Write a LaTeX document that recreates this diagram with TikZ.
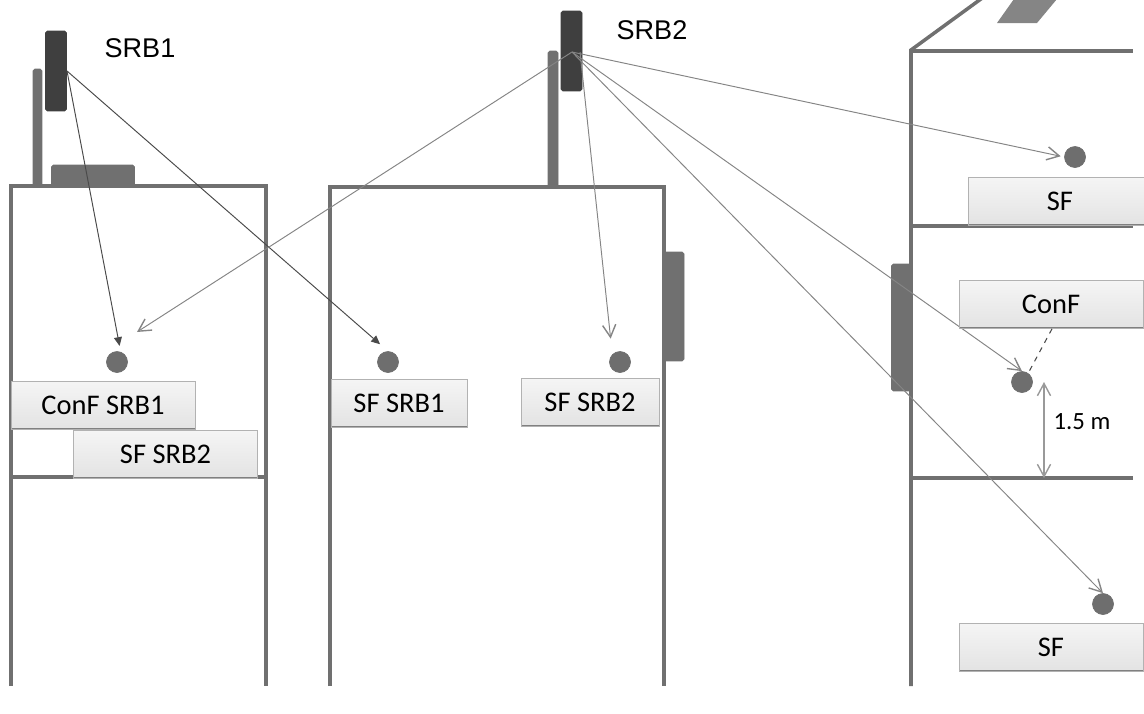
\documentclass[tikz,border=0pt]{standalone}
\usepackage{fontspec}
\setmainfont{Carlito}
\newfontfamily\arialfont{Liberation Sans}
\usepackage{tikz}
\usetikzlibrary{positioning,
                calc,
                arrows.meta}
\definecolor{wallgray}{HTML}{707070}
\definecolor{antennagray}{HTML}{3F3F3F}
\definecolor{raygray}{HTML}{858585}
\definecolor{raydark}{HTML}{4A4A4A}
\definecolor{dotgray}{HTML}{6E6E6E}

\begin{document}
\begin{tikzpicture}[x=0.02cm,y=-0.02cm]

%--------------------------------------------------
% STYLES
%--------------------------------------------------

\tikzset{
wall/.style={
draw=wallgray,
line width=2pt
},
antenna/.style={
draw=antennagray,
fill=antennagray,
rounded corners=1pt,
inner sep=0pt,
minimum width=0.42cm,
minimum height=1.6cm
},
panel/.style={
draw=wallgray,
fill=wallgray,
rounded corners=1pt,
inner sep=0pt
},
userdot/.style={
circle,
draw=dotgray,
fill=dotgray,
inner sep=0pt,
minimum size=0.42cm
},
tagbox/.style={
draw=gray!60,
top color=gray!8,
bottom color=gray!22,
inner sep=0pt,
minimum width=3.68cm,
minimum height=0.96cm,
font=\fontsize{16.2}{18}\selectfont,
path picture={
\draw[gray,line width=1.6pt]
(path picture bounding box.south west)--(path picture bounding box.south east);
}
},
rayopen/.style={
draw=raygray,
line width=0.55pt,
-{Straight Barb[length=7pt,width=7.5pt,line width=0.8pt]}
},
raysolid/.style={
draw=raydark,
line width=0.55pt,
-{Triangle[length=5pt,width=4.5pt]}
},
srblabel/.style={
font=\arialfont\fontsize{15.4}{18}\selectfont
}
}

\clip (0,0) rectangle (1144,714);

%--------------------------------------------------
% LEFT BUILDING
%--------------------------------------------------

\draw[wall] (11,686)--(11,186)--(266,186)--(266,686);
\draw[wall] (11,477)--(266,477);

\node[panel,minimum width=0.18cm,minimum height=2.34cm]
(poleone) at (37.5,127.5) {};

\node[panel,minimum width=1.66cm,minimum height=0.42cm]
(roofbox) at (93,175.5) {};

\node[antenna] (srbone) at (56,71) {};

\node[srblabel] (srbonelabel) at (140,48) {SRB1};

%--------------------------------------------------
% MIDDLE BUILDING
%--------------------------------------------------

\draw[wall] (330,686)--(330,187)--(664,187)--(664,686);

\node[panel,minimum width=0.2cm,minimum height=2.72cm]
(poletwo) at (553,119) {};

\node[panel,minimum width=0.4cm,minimum height=2.18cm]
(sidepanel) at (674,306.5) {};

\node[antenna] (srbtwo) at (571.5,51) {};

\node[srblabel] (srbtwolabel) at (652,30) {SRB2};

%--------------------------------------------------
% RIGHT BUILDING
%--------------------------------------------------

\draw[wall] (911,686)--(911,50)--(985,-4);
\draw[wall] (911,51)--(1133,51);
\draw[wall] (911,226)--(1133,226);
\draw[wall] (911,478)--(1133,478);

\fill[wallgray!85] (997,23)--(1037,23)--(1057,-1)--(1014,-1)--cycle;

\node[panel,minimum width=0.4cm,minimum height=2.54cm]
(frontpanel) at (901.5,327.5) {};

%--------------------------------------------------
% USERS
%--------------------------------------------------

\node[userdot] (confone) at (117,362) {};
\node[userdot] (sfone) at (388,362) {};
\node[userdot] (sftwo) at (620,362) {};
\node[userdot] (sftop) at (1075,157) {};
\node[userdot] (confright) at (1022,382) {};
\node[userdot] (sfbottom) at (1103,604) {};

%--------------------------------------------------
% RAYS
%--------------------------------------------------

\coordinate (srbonefoot) at (67,71);
\coordinate (srbtwofoot) at (572,52);
\coordinate (srbtwoside) at (580,52);
\coordinate (confonegap) at (137,332);
\coordinate (floortop) at (1044,382);
\coordinate (floorfoot) at (1044,478);

\draw[raysolid,shorten >=3.4pt] (srbonefoot)--(confone.70);
\draw[raysolid,shorten >=6pt] (srbonefoot)--(sfone.north);

\draw[rayopen] (srbtwofoot)--(confonegap);
\draw[rayopen,shorten >=9pt] (srbtwoside)--(sftwo.135);
\draw[rayopen,shorten >=2pt] (srbtwofoot)--(sftop.west);
\draw[rayopen] (srbtwofoot)--(confright.north);
\draw[rayopen] (srbtwofoot)--(sfbottom.north);

%--------------------------------------------------
% LABELS
%--------------------------------------------------

\node[tagbox] (confonetag) at (103,405) {ConF SRB1};
\node[tagbox] (sftwotag) at (165.5,454.5) {SF SRB2};
\node[tagbox,minimum width=2.72cm] (sfonetag) at (399,403.5) {SF SRB1};
\node[tagbox,minimum width=2.76cm] (sfsrbtag) at (590,402.5) {SF SRB2};
\node[tagbox] (sftoptag) at (1060,201.5) {SF};
\node[tagbox] (confrighttag) at (1051,304.5) {ConF};
\node[tagbox] (sfbottomtag) at (1051,647) {SF};

\draw[raydark,dashed,line width=0.6pt] (confrighttag.south)++(1,0)--(confright.55);

%--------------------------------------------------
% HEIGHT
%--------------------------------------------------

\draw[draw=gray!80,line width=0.6pt,
{Straight Barb[length=7pt,width=7.5pt,line width=0.8pt]}-{Straight Barb[length=7pt,width=7.5pt,line width=0.8pt]}]
(floortop)--(floorfoot);

\node[font=\fontsize{14.1}{16}\selectfont] (heightlabel) at (1082,422) {1.5 m};

\end{tikzpicture}
\end{document}
